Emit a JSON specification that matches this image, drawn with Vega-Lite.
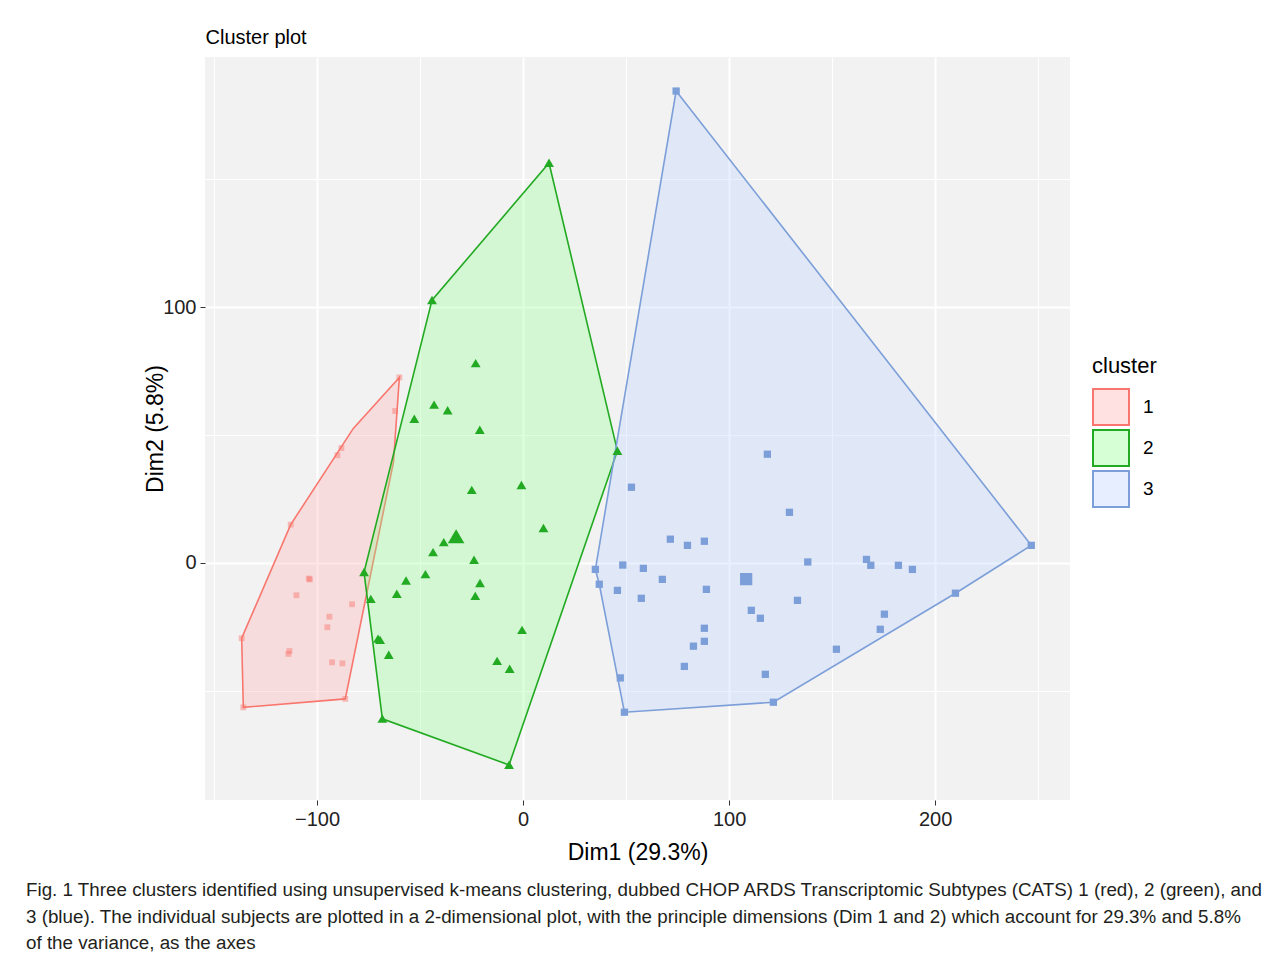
{
  "$schema": "https://vega.github.io/schema/vega-lite/v6.json",
  "width": 865,
  "height": 743,
  "autosize": {"type": "none"},
  "padding": {"left": 205, "top": 57, "right": 217, "bottom": 159},
  "background": "white",
  "config": {
    "font": "Liberation Sans",
    "view": {"fill": "#F2F2F2", "stroke": null},
    "axis": {
      "domain": false,
      "gridColor": "#FFFFFF",
      "tickColor": "#333333",
      "tickSize": 5,
      "labelFontSize": 20,
      "labelColor": "#222222",
      "titleFontSize": 23,
      "titleFontWeight": "normal",
      "titleColor": "#000000"
    }
  },
  "title": {
    "text": [
      "Fig. 1  Three clusters identified using unsupervised k-means clustering, dubbed CHOP ARDS Transcriptomic Subtypes (CATS) 1 (red), 2 (green), and",
      "3 (blue). The individual subjects are plotted in a 2-dimensional plot, with the principle dimensions (Dim 1 and 2) which account for 29.3% and 5.8%",
      "of the variance, as the axes"
    ],
    "orient": "bottom",
    "anchor": "start",
    "frame": "group",
    "dx": -179,
    "offset": 17,
    "fontSize": 18.8,
    "font": "Liberation Sans",
    "fontWeight": "normal",
    "color": "#231F20",
    "lineHeight": 26.5
  },
  "datasets": {
    "hull": [
      {"cluster": "1", "v": 1, "x": -60.05, "y": 72.5},
      {"cluster": "1", "v": 2, "x": -62.9, "y": 39.5},
      {"cluster": "1", "v": 3, "x": -86.3, "y": -53.1},
      {"cluster": "1", "v": 4, "x": -135.8, "y": -56.4},
      {"cluster": "1", "v": 5, "x": -136.6, "y": -29.4},
      {"cluster": "1", "v": 6, "x": -112.8, "y": 15.0},
      {"cluster": "1", "v": 7, "x": -82.4, "y": 52.6},
      {"cluster": "2", "v": 1, "x": 12.6, "y": 156.3},
      {"cluster": "2", "v": 2, "x": 45.8, "y": 43.8},
      {"cluster": "2", "v": 3, "x": -6.8, "y": -78.9},
      {"cluster": "2", "v": 4, "x": -68.3, "y": -60.9},
      {"cluster": "2", "v": 5, "x": -77.2, "y": -3.6},
      {"cluster": "2", "v": 6, "x": -44.2, "y": 102.7},
      {"cluster": "3", "v": 1, "x": 74.3, "y": 184.4},
      {"cluster": "3", "v": 2, "x": 246.7, "y": 6.9},
      {"cluster": "3", "v": 3, "x": 209.9, "y": -11.8},
      {"cluster": "3", "v": 4, "x": 121.5, "y": -54.4},
      {"cluster": "3", "v": 5, "x": 49.2, "y": -58.3},
      {"cluster": "3", "v": 6, "x": 37.0, "y": -8.3},
      {"cluster": "3", "v": 7, "x": 35.1, "y": -2.5}
    ],
    "pts": [
      {"cluster": "1", "kind": "point", "x": -60.05, "y": 72.5},
      {"cluster": "1", "kind": "point", "x": -62.1, "y": 59.4},
      {"cluster": "1", "kind": "point", "x": -88.2, "y": 44.9},
      {"cluster": "1", "kind": "point", "x": -90.1, "y": 42.1},
      {"cluster": "1", "kind": "point", "x": -112.8, "y": 15.0},
      {"cluster": "1", "kind": "point", "x": -136.6, "y": -29.4},
      {"cluster": "1", "kind": "point", "x": -135.8, "y": -56.4},
      {"cluster": "1", "kind": "point", "x": -86.3, "y": -53.1},
      {"cluster": "1", "kind": "point", "x": -104.0, "y": -6.1},
      {"cluster": "1", "kind": "point", "x": -103.5, "y": -6.4},
      {"cluster": "1", "kind": "point", "x": -110.0, "y": -12.6},
      {"cluster": "1", "kind": "point", "x": -83.0, "y": -16.1},
      {"cluster": "1", "kind": "point", "x": -94.0, "y": -21.0},
      {"cluster": "1", "kind": "point", "x": -95.0, "y": -25.1},
      {"cluster": "1", "kind": "point", "x": -113.4, "y": -34.4},
      {"cluster": "1", "kind": "point", "x": -113.9, "y": -35.5},
      {"cluster": "1", "kind": "point", "x": -92.7, "y": -38.8},
      {"cluster": "1", "kind": "point", "x": -87.7, "y": -39.2},
      {"cluster": "2", "kind": "point", "x": 12.6, "y": 156.3},
      {"cluster": "2", "kind": "point", "x": -44.2, "y": 102.7},
      {"cluster": "2", "kind": "point", "x": -23.0, "y": 78.0},
      {"cluster": "2", "kind": "point", "x": -43.2, "y": 61.8},
      {"cluster": "2", "kind": "point", "x": -36.6, "y": 59.6},
      {"cluster": "2", "kind": "point", "x": -52.8, "y": 56.3},
      {"cluster": "2", "kind": "point", "x": -21.0, "y": 52.0},
      {"cluster": "2", "kind": "point", "x": 45.8, "y": 43.8},
      {"cluster": "2", "kind": "point", "x": -24.9, "y": 28.5},
      {"cluster": "2", "kind": "point", "x": -0.8, "y": 30.4},
      {"cluster": "2", "kind": "point", "x": 9.9, "y": 13.6},
      {"cluster": "2", "kind": "center", "x": -32.5, "y": 10.3},
      {"cluster": "2", "kind": "point", "x": -38.5, "y": 8.1},
      {"cluster": "2", "kind": "point", "x": -43.7, "y": 4.2},
      {"cluster": "2", "kind": "point", "x": -23.8, "y": 1.2},
      {"cluster": "2", "kind": "point", "x": -77.2, "y": -3.6},
      {"cluster": "2", "kind": "point", "x": -56.8, "y": -6.9},
      {"cluster": "2", "kind": "point", "x": -47.4, "y": -4.4},
      {"cluster": "2", "kind": "point", "x": -20.9, "y": -7.9},
      {"cluster": "2", "kind": "point", "x": -61.3, "y": -12.1},
      {"cluster": "2", "kind": "point", "x": -23.2, "y": -12.9},
      {"cluster": "2", "kind": "point", "x": -73.9, "y": -14.1},
      {"cluster": "2", "kind": "point", "x": -0.5, "y": -26.2},
      {"cluster": "2", "kind": "point", "x": -70.4, "y": -29.6},
      {"cluster": "2", "kind": "point", "x": -69.4, "y": -30.1},
      {"cluster": "2", "kind": "point", "x": -65.2, "y": -35.9},
      {"cluster": "2", "kind": "point", "x": -12.6, "y": -38.3},
      {"cluster": "2", "kind": "point", "x": -6.5, "y": -41.4},
      {"cluster": "2", "kind": "point", "x": -68.3, "y": -60.9},
      {"cluster": "2", "kind": "point", "x": -6.8, "y": -78.9},
      {"cluster": "3", "kind": "point", "x": 74.3, "y": 184.4},
      {"cluster": "3", "kind": "point", "x": 118.6, "y": 42.5},
      {"cluster": "3", "kind": "point", "x": 129.3, "y": 19.8},
      {"cluster": "3", "kind": "point", "x": 52.6, "y": 29.6},
      {"cluster": "3", "kind": "point", "x": 71.5, "y": 9.3},
      {"cluster": "3", "kind": "point", "x": 79.8, "y": 6.9},
      {"cluster": "3", "kind": "point", "x": 88.0, "y": 8.5},
      {"cluster": "3", "kind": "point", "x": 35.1, "y": -2.5},
      {"cluster": "3", "kind": "point", "x": 48.4, "y": -0.8},
      {"cluster": "3", "kind": "point", "x": 58.4, "y": -2.1},
      {"cluster": "3", "kind": "point", "x": 67.6, "y": -6.4},
      {"cluster": "3", "kind": "point", "x": 37.0, "y": -8.3},
      {"cluster": "3", "kind": "point", "x": 45.8, "y": -10.7},
      {"cluster": "3", "kind": "point", "x": 57.4, "y": -13.8},
      {"cluster": "3", "kind": "point", "x": 89.0, "y": -10.3},
      {"cluster": "3", "kind": "center", "x": 108.3, "y": -6.3},
      {"cluster": "3", "kind": "point", "x": 138.2, "y": 0.4},
      {"cluster": "3", "kind": "point", "x": 133.2, "y": -14.6},
      {"cluster": "3", "kind": "point", "x": 110.8, "y": -18.5},
      {"cluster": "3", "kind": "point", "x": 115.2, "y": -21.6},
      {"cluster": "3", "kind": "point", "x": 88.0, "y": -25.5},
      {"cluster": "3", "kind": "point", "x": 88.0, "y": -30.6},
      {"cluster": "3", "kind": "point", "x": 82.7, "y": -32.5},
      {"cluster": "3", "kind": "point", "x": 78.3, "y": -40.4},
      {"cluster": "3", "kind": "point", "x": 117.6, "y": -43.5},
      {"cluster": "3", "kind": "point", "x": 47.2, "y": -44.9},
      {"cluster": "3", "kind": "point", "x": 49.2, "y": -58.3},
      {"cluster": "3", "kind": "point", "x": 121.5, "y": -54.4},
      {"cluster": "3", "kind": "point", "x": 166.7, "y": 1.4},
      {"cluster": "3", "kind": "point", "x": 168.8, "y": -0.9},
      {"cluster": "3", "kind": "point", "x": 182.2, "y": -0.9},
      {"cluster": "3", "kind": "point", "x": 189.0, "y": -2.5},
      {"cluster": "3", "kind": "point", "x": 175.4, "y": -20.0},
      {"cluster": "3", "kind": "point", "x": 173.4, "y": -25.9},
      {"cluster": "3", "kind": "point", "x": 152.1, "y": -33.7},
      {"cluster": "3", "kind": "point", "x": 209.9, "y": -11.8},
      {"cluster": "3", "kind": "point", "x": 246.7, "y": 6.9}
    ]
  },
  "layer": [
    {
      "data": {"name": "hull"},
      "mark": {"type": "line", "interpolate": "linear-closed", "strokeWidth": 1.6, "fillOpacity": 0.3},
      "encoding": {
        "x": {
          "field": "x", "type": "quantitative",
          "scale": {"domain": [-154.4, 265.5], "nice": false, "zero": false},
          "axis": {
            "title": "Dim1 (29.3%)",
            "values": [-150, -100, -50, 0, 50, 100, 150, 200, 250],
            "labelExpr": "datum.value % 100 === 0 ? datum.label : ''",
            "tickOpacity": {"condition": {"test": "datum.value % 100 !== 0", "value": 0}, "value": 1},
            "gridWidth": {"condition": {"test": "datum.value % 100 !== 0", "value": 1}, "value": 2},
            "labelPadding": 4,
            "titlePadding": 12
          }
        },
        "y": {
          "field": "y", "type": "quantitative",
          "scale": {"domain": [-92.6, 197.7], "nice": false, "zero": false},
          "axis": {
            "title": "Dim2 (5.8%)",
            "values": [-50, 0, 50, 100, 150],
            "labelExpr": "datum.value % 100 === 0 ? datum.label : ''",
            "tickOpacity": {"condition": {"test": "datum.value % 100 !== 0", "value": 0}, "value": 1},
            "gridWidth": {"condition": {"test": "datum.value % 100 !== 0", "value": 1}, "value": 2},
            "labelPadding": 4,
            "titlePadding": -5
          }
        },
        "order": {"field": "v", "type": "quantitative"},
        "fill": {
          "field": "cluster", "type": "nominal",
          "scale": {"domain": ["1", "2", "3"], "range": ["#FFA8A8", "#8AFF8A", "#B6CDFF"]},
          "legend": {
            "title": "cluster",
            "orient": "none",
            "legendX": 887,
            "legendY": 299,
            "titleFontSize": 22,
            "titleFontWeight": "normal",
            "titleColor": "#000000",
            "titlePadding": 10,
            "labelFontSize": 19,
            "labelColor": "#000000",
            "labelOffset": 13,
            "symbolType": "square",
            "symbolSize": 1296,
            "symbolStrokeWidth": 2,
            "rowPadding": -9,
            "encode": {"symbols": {"update": {"fillOpacity": {"value": 0.35}, "opacity": {"value": 1}}}}
          }
        },
        "stroke": {
          "field": "cluster", "type": "nominal",
          "scale": {"domain": ["1", "2", "3"], "range": ["#F8766D", "#22AA22", "#7C9FD9"]},
          "legend": {
            "title": "cluster",
            "orient": "none",
            "legendX": 887,
            "legendY": 299,
            "titleFontSize": 22,
            "titleFontWeight": "normal",
            "titleColor": "#000000",
            "titlePadding": 10,
            "labelFontSize": 19,
            "labelColor": "#000000",
            "labelOffset": 13,
            "symbolType": "square",
            "symbolSize": 1296,
            "symbolStrokeWidth": 2,
            "rowPadding": -9,
            "encode": {"symbols": {"update": {"fillOpacity": {"value": 0.35}, "opacity": {"value": 1}}}}
          }
        }
      }
    },
    {
      "data": {"name": "pts"},
      "transform": [{"filter": "datum.cluster === '1'"}],
      "mark": {"type": "point", "filled": true, "shape": "M-0.8,-0.8H0.8V0.8H-0.8Z", "opacity": 0.45},
      "encoding": {
        "x": {
          "field": "x", "type": "quantitative",
          "axis": {
            "orient": "top",
            "title": "Cluster plot",
            "titleAnchor": "start",
            "titleAlign": "left",
            "titleFontSize": 20,
            "titlePadding": 10,
            "labels": false,
            "ticks": false,
            "domain": false,
            "grid": false
          }
        },
        "y": {"field": "y", "type": "quantitative"},
        "color": {
          "field": "cluster", "type": "nominal",
          "scale": {"domain": ["1", "2", "3"], "range": ["#F8766D", "#22AA22", "#7C9FD9"]},
          "legend": null
        },
        "size": {
          "field": "kind", "type": "nominal",
          "scale": {"domain": ["point", "center"], "range": [53, 150]},
          "legend": null
        }
      }
    },
    {
      "data": {"name": "pts"},
      "transform": [{"filter": "datum.cluster === '2'"}],
      "mark": {"type": "point", "filled": true, "shape": "M0,-1.2L1.35,1.1L-1.35,1.1Z", "opacity": 1},
      "encoding": {
        "x": {"field": "x", "type": "quantitative", "axis": null},
        "y": {"field": "y", "type": "quantitative"},
        "color": {"field": "cluster", "type": "nominal", "legend": null},
        "size": {"field": "kind", "type": "nominal", "legend": null}
      }
    },
    {
      "data": {"name": "pts"},
      "transform": [{"filter": "datum.cluster === '3'"}],
      "mark": {"type": "point", "filled": true, "shape": "M-1,-1H1V1H-1Z", "opacity": 1},
      "encoding": {
        "x": {"field": "x", "type": "quantitative", "axis": null},
        "y": {"field": "y", "type": "quantitative"},
        "color": {"field": "cluster", "type": "nominal", "legend": null},
        "size": {"field": "kind", "type": "nominal", "legend": null}
      }
    }
  ],
  "resolve": {"axis": {"x": "independent"}}
}
